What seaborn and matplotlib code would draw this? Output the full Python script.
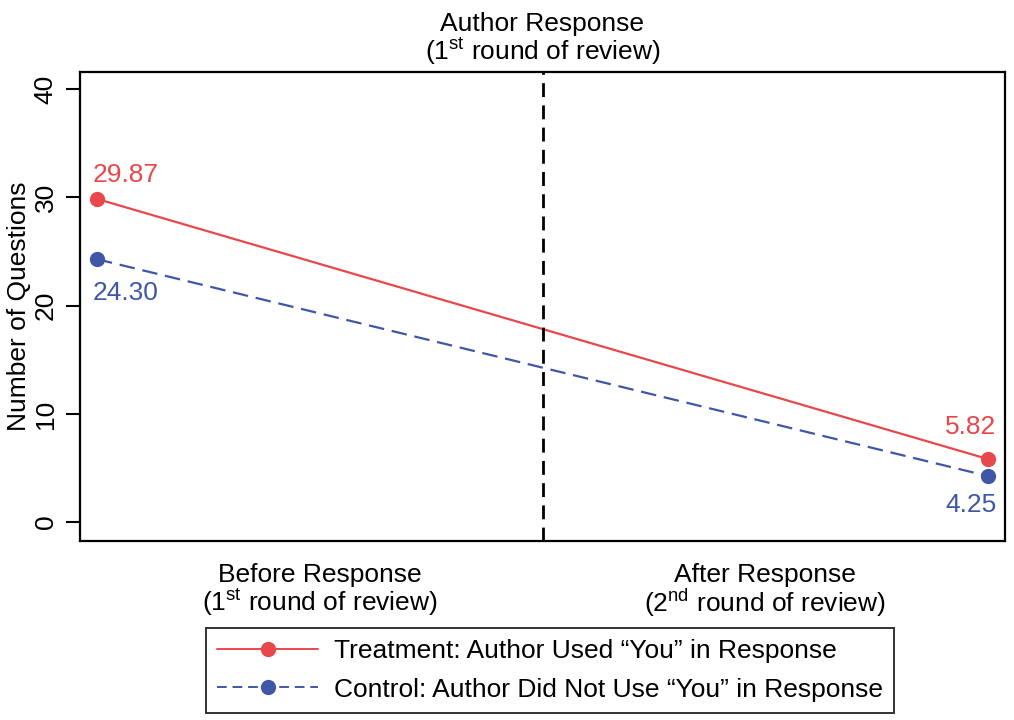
import matplotlib
matplotlib.use("Agg")
import matplotlib.pyplot as plt
from matplotlib.lines import Line2D
import seaborn as sns
import pandas as pd

# Data
periods = [0, 1]
treatment_vals = [29.87, 5.82]
control_vals = [24.30, 4.25]
group_names = ["Treatment: Author Used \u201cYou\u201d in Response",
               "Control: Author Did Not Use \u201cYou\u201d in Response"]
period_labels = ["Before Response\n(1$^{\\mathregular{st}}$ round of review)",
                 "After Response\n(2$^{\\mathregular{nd}}$ round of review)"]
y_ticks = [0, 10, 20, 30, 40]

RED = "#E8474C"
BLUE = "#4057A8"
FS = 19

sns.set_style("white")
plt.rcParams["font.family"] = ["Liberation Sans", "DejaVu Sans"]
plt.rcParams["mathtext.fontset"] = "custom"
plt.rcParams["mathtext.rm"] = "Liberation Sans"
plt.rcParams["text.color"] = "black"
plt.rcParams["axes.labelcolor"] = "black"
plt.rcParams["xtick.color"] = "black"
plt.rcParams["ytick.color"] = "black"

df = pd.DataFrame({
    "period": periods * 2,
    "value": treatment_vals + control_vals,
    "group": [group_names[0]] * 2 + [group_names[1]] * 2,
})

fig, ax = plt.subplots(figsize=(10.14, 7.2), dpi=100)
fig.subplots_adjust(left=80 / 1014, right=1005 / 1014, top=1 - 72 / 720, bottom=1 - 541 / 720)

sns.lineplot(data=df, x="period", y="value", hue="group", style="group",
             palette=[RED, BLUE], dashes=[(None, None), (7, 3.5)],
             markers=["o", "o"], markersize=11, markeredgewidth=0,
             linewidth=1.6, legend=False, ax=ax)

ax.axvline(0.5, color="black", linestyle=(0, (5, 3)), linewidth=2)

# value labels
ax.annotate(f"{treatment_vals[0]:.2f}", (periods[0], treatment_vals[0]), xytext=(-3, 17),
            textcoords="offset points", ha="left", va="center", color=RED, fontsize=FS)
ax.annotate(f"{control_vals[0]:.2f}", (periods[0], control_vals[0]), xytext=(-3, -24),
            textcoords="offset points", ha="left", va="center", color=BLUE, fontsize=FS)
ax.annotate(f"{treatment_vals[1]:.2f}", (periods[1], treatment_vals[1]), xytext=(6, 23),
            textcoords="offset points", ha="right", va="center", color=RED, fontsize=FS)
ax.annotate(f"{control_vals[1]:.2f}", (periods[1], control_vals[1]), xytext=(6, -21),
            textcoords="offset points", ha="right", va="center", color=BLUE, fontsize=FS)

ax.set_xlim(-0.019, 1.019)
ax.set_ylim(-1.75, 41.6)
ax.set_yticks(y_ticks)
ax.set_yticklabels([str(t) for t in y_ticks], rotation=90, va="center", fontsize=FS)
ax.set_xticks([0.25, 0.75])
ax.set_xticklabels(period_labels, fontsize=FS, linespacing=0.95)
ax.tick_params(axis="x", length=0, pad=16)
ax.tick_params(axis="y", length=10, width=1.5, color="black", left=True, pad=6)
ax.set_xlabel("")
ax.set_ylabel("Number of Questions", fontsize=FS, labelpad=2)
ax.set_title("Author Response\n(1$^{\\mathregular{st}}$ round of review)", fontsize=FS,
             linespacing=0.95, pad=9)

for sp in ax.spines.values():
    sp.set_color("black")
    sp.set_linewidth(1.6)

handles = [
    Line2D([], [], color=RED, linewidth=1.4, marker="o", markersize=11, markeredgewidth=0),
    Line2D([], [], color=BLUE, linewidth=1.4, linestyle=(0, (5, 3)), marker="o",
           markersize=11, markeredgewidth=0),
]
leg = fig.legend(handles, group_names, loc="upper center",
                 bbox_to_anchor=(550 / 1014, 1 - 628 / 720), fontsize=FS,
                 frameon=True, fancybox=False, handlelength=3.8, borderpad=0.42,
                 labelspacing=0.55, handletextpad=0.6, borderaxespad=0)
leg.get_frame().set_edgecolor("black")
leg.get_frame().set_linewidth(1.4)

fig.savefig("out.png", dpi=100)
